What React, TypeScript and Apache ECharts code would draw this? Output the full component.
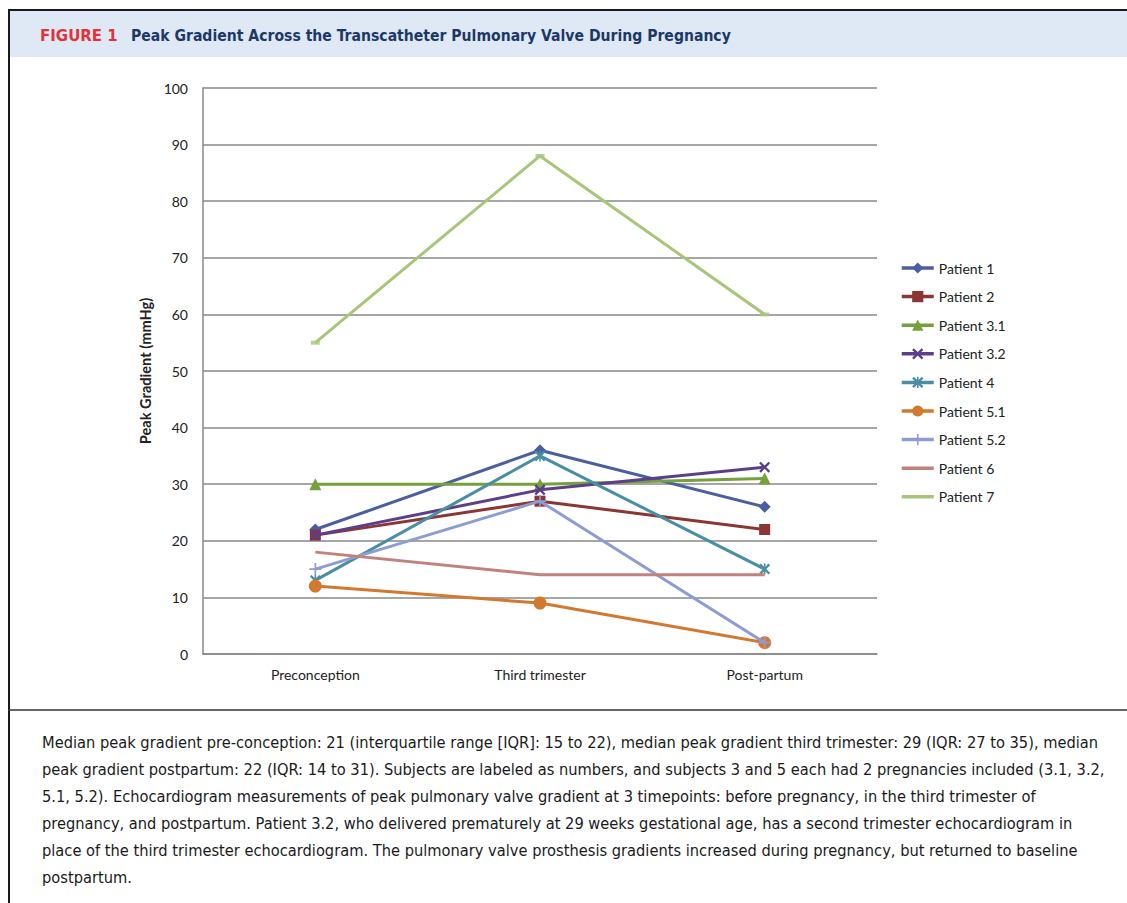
import React, { useEffect, useRef } from "react";
import * as echarts from "echarts";

const categories = ["Preconception", "Third trimester", "Post-partum"];
const patientNames = [
  "Patient 1",
  "Patient 2",
  "Patient 3.1",
  "Patient 3.2",
  "Patient 4",
  "Patient 5.1",
  "Patient 5.2",
  "Patient 6",
  "Patient 7",
];
const p1 = [22, 36, 26];
const p2 = [21, 27, 22];
const p31 = [30, 30, 31];
const p32 = [21, 29, 33];
const p4 = [13, 35, 15];
const p51 = [12, 9, 2];
const p52 = [15, 27, 2];
const p6 = [18, 14, 14];
const p7 = [55, 88, 60];
const seriesValues = [p1, p2, p31, p32, p4, p51, p52, p6, p7];
const yTicks = [0, 100, 10];

const colors = [
  "#4b5e9f",
  "#8c3634",
  "#76a03b",
  "#5b3f8a",
  "#4a8ea3",
  "#d3782f",
  "#8d9dd3",
  "#c2817e",
  "#a8c57a",
];

const X_PATH =
  "path://M0,1.5 L1.5,0 L5,3.5 L8.5,0 L10,1.5 L6.5,5 L10,8.5 L8.5,10 L5,6.5 L1.5,10 L0,8.5 L3.5,5 Z";
const STAR_PATH =
  "path://M0,1.5 L1.5,0 L5,3.5 L8.5,0 L10,1.5 L6.5,5 L10,8.5 L8.5,10 L5,6.5 L1.5,10 L0,8.5 L3.5,5 Z M4.3,0 L5.7,0 L5.7,10 L4.3,10 Z";
const PLUS_PATH = "path://M4.3,0 L5.7,0 L5.7,4.3 L10,4.3 L10,5.7 L5.7,5.7 L5.7,10 L4.3,10 L4.3,5.7 L0,5.7 L0,4.3 L4.3,4.3 Z";

const symbols: any[] = ["diamond", "rect", "triangle", X_PATH, STAR_PATH, "circle", PLUS_PATH, "none", "none"];
const symbolSizes: any[] = [12, 11, 12, 11, 11, 13, 12, 0, 0];

const captionLines = [
  "Median peak gradient pre-conception: 21 (interquartile range [IQR]: 15 to 22), median peak gradient third trimester: 29 (IQR: 27 to 35), median",
  "peak gradient postpartum: 22 (IQR: 14 to 31). Subjects are labeled as numbers, and subjects 3 and 5 each had 2 pregnancies included (3.1, 3.2,",
  "5.1, 5.2). Echocardiogram measurements of peak pulmonary valve gradient at 3 timepoints: before pregnancy, in the third trimester of",
  "pregnancy, and postpartum. Patient 3.2, who delivered prematurely at 29 weeks gestational age, has a second trimester echocardiogram in",
  "place of the third trimester echocardiogram. The pulmonary valve prosthesis gradients increased during pregnancy, but returned to baseline",
  "postpartum.",
];

const CHART_FONT = "Lato, 'Open Sans', sans-serif";
const COND_FONT = "'DejaVu Sans Condensed', 'Liberation Sans Narrow', sans-serif";

export default function App() {
  const ref = useRef<HTMLDivElement>(null);
  useEffect(() => {
    document.body.style.margin = "0";
    if (!ref.current) return;
    const chart = echarts.init(ref.current, undefined, { renderer: "svg" });

    const lineSeries: any[] = patientNames.map((name, i) => ({
      name,
      type: "line",
      data: seriesValues[i],
      symbol: symbols[i],
      symbolSize: symbolSizes[i],
      showSymbol: symbols[i] !== "none",
      z: 2 + i,
      lineStyle: { color: colors[i], width: 3 },
      itemStyle: { color: colors[i] },
      emphasis: { disabled: true },
    }));
    lineSeries.push({
      name: "Patient 7 markers",
      type: "scatter",
      data: p7,
      symbol: "rect",
      symbolSize: [9, 4],
      z: 20,
      itemStyle: { color: colors[8] },
      emphasis: { disabled: true },
    });

    const legendData = patientNames.map((name, i) =>
      symbols[i] === "none"
        ? { name, itemStyle: { color: "rgba(0,0,0,0)", borderWidth: 0, opacity: 0 } }
        : { name }
    );

    const graphics: any[] = [
      { type: "rect", shape: { x: 9, y: 11, width: 1118, height: 46 }, style: { fill: "#dee9f5" } },
      { type: "line", shape: { x1: 8, y1: 10, x2: 1127, y2: 10 }, style: { stroke: "#1a1a1a", lineWidth: 2 } },
      { type: "line", shape: { x1: 9, y1: 9, x2: 9, y2: 903 }, style: { stroke: "#1a1a1a", lineWidth: 2 } },
      { type: "line", shape: { x1: 8, y1: 710, x2: 1127, y2: 710 }, style: { stroke: "#333", lineWidth: 1.5 } },
      {
        type: "text",
        x: 40,
        y: 36,
        style: {
          text: "FIGURE 1",
          font: `bold 15px 'DejaVu Sans', sans-serif`,
          fill: "#e2323c",
          verticalAlign: "middle",
        },
      },
      {
        type: "text",
        x: 131,
        y: 36,
        style: {
          text: "Peak Gradient Across the Transcatheter Pulmonary Valve During Pregnancy",
          font: `bold 15.6px ${COND_FONT}`,
          fill: "#1d3867",
          verticalAlign: "middle",
        },
      },
      ...captionLines.map((t, i) => ({
        type: "text",
        x: 42,
        y: 742 + i * 27,
        style: {
          text: t,
          font: `16.3px ${COND_FONT}`,
          fill: "#1a1a1a",
          verticalAlign: "middle",
        },
      })),
    ];

    chart.setOption({
      animation: false,
      color: colors,
      backgroundColor: "#ffffff",
      grid: { left: 203, top: 88, width: 674, height: 566, containLabel: false },
      legend: {
        data: legendData,
        orient: "vertical",
        left: 895,
        top: 256,
        itemWidth: 32,
        itemHeight: 14,
        itemGap: 14.6,
        lineStyle: { width: 3.5 },
        textStyle: { fontFamily: CHART_FONT, fontSize: 14, color: "#222" },
        selectedMode: false,
      },
      xAxis: {
        type: "category",
        data: categories,
        boundaryGap: true,
        axisLine: { show: true, lineStyle: { color: "#888", width: 1.5 } },
        axisTick: { show: false },
        axisLabel: { fontFamily: CHART_FONT, fontSize: 14, color: "#222", margin: 13 },
        splitLine: { show: false },
      },
      yAxis: {
        type: "value",
        min: yTicks[0],
        max: yTicks[1],
        interval: yTicks[2],
        name: "Peak Gradient (mmHg)",
        nameLocation: "middle",
        nameGap: 42,
        nameTextStyle: { fontFamily: CHART_FONT, fontSize: 14.6, fontWeight: "bold", color: "#222" },
        axisLine: { show: true, lineStyle: { color: "#888", width: 1.5 } },
        axisTick: { show: false },
        axisLabel: { fontFamily: CHART_FONT, fontSize: 14, color: "#222", margin: 15 },
        splitLine: { show: true, lineStyle: { color: "#888", width: 1.5 } },
      },
      graphic: graphics,
      series: lineSeries,
    });
    return () => chart.dispose();
  }, []);
  return <div ref={ref} style={{ width: 1127, height: 903 }} />;
}
